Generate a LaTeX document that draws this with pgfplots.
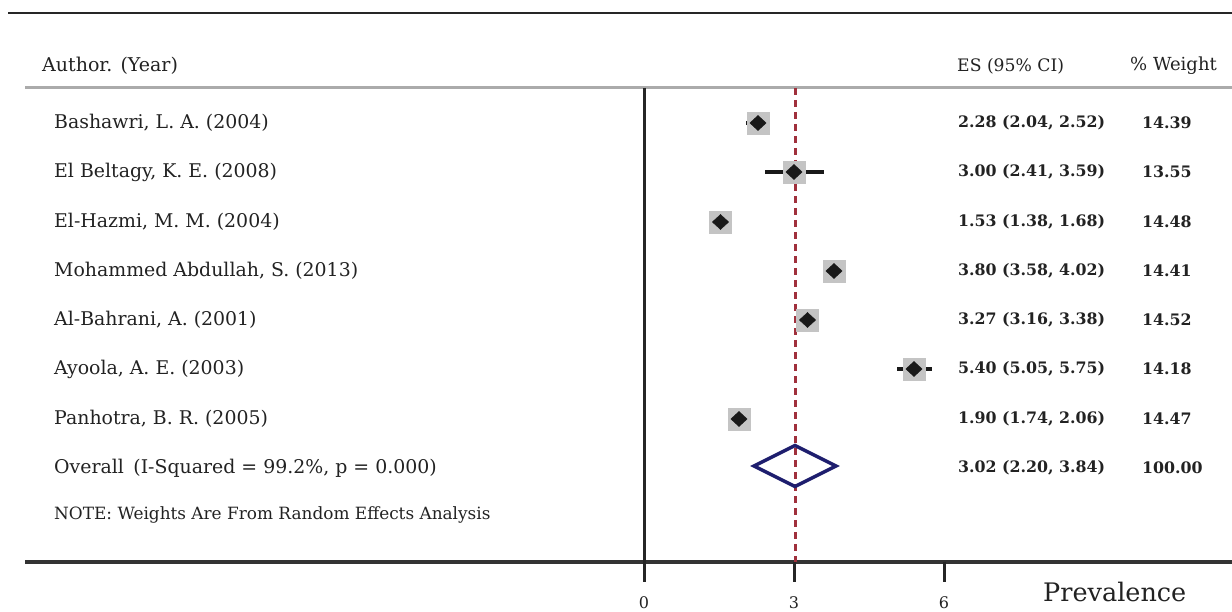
\documentclass[border=0pt]{standalone}
\usepackage{fontspec}
\setmainfont{DejaVu Serif}
\usepackage{pgfplots}
\usepackage{pgfplotstable}
\pgfplotsset{compat=1.18}
\definecolor{navy}{HTML}{1E1E6E}
\definecolor{refred}{HTML}{A0303C}
\definecolor{boxgray}{HTML}{C4C4C4}
\definecolor{txt}{HTML}{222222}
\pgfplotstableread{
es lo hi w ypos
2.28 2.04 2.52 14.39 -123
3.00 2.41 3.59 13.55 -172
1.53 1.38 1.68 14.48 -222
3.80 3.58 4.02 14.41 -271
3.27 3.16 3.38 14.52 -320
5.40 5.05 5.75 14.18 -369
1.90 1.74 2.06 14.47 -419
}\studies
\pgfplotstablecreatecol[create col/expr={\thisrow{es}-\thisrow{lo}}]{em}\studies
\pgfplotstablecreatecol[create col/expr={\thisrow{hi}-\thisrow{es}}]{ep}\studies
\tikzset{
  lab/.style={anchor=west, inner xsep=0pt, text=txt, font=\fontsize{18.9}{20}\selectfont},
  hdr/.style={anchor=west, inner xsep=0pt, text=txt, font=\fontsize{18}{20}\selectfont},
  val/.style={anchor=west, inner xsep=0pt, text=txt, font=\bfseries\fontsize{15.8}{18}\selectfont},
  tk/.style={text=txt, inner sep=0pt, font=\fontsize{16}{17}\selectfont},
}
\begin{document}
\begin{tikzpicture}
\begin{axis}[
  width=1232pt, height=612pt, scale only axis,
  xmin=-12.88, xmax=11.76, ymin=-612, ymax=0,
  axis lines=none, clip=false,
]
% frame lines
\addplot[black!85, line width=2pt] coordinates {(-12.72,-13) (11.76,-13)};
\addplot[black!33, line width=3pt] coordinates {(-12.38,-88) (11.76,-88)};
\addplot[black!80, line width=3.5pt] coordinates {(-12.38,-562) (11.76,-562)};
\addplot[black!85, line width=3pt] coordinates {(0,-88) (0,-582)};
\addplot[black!85, line width=3pt] coordinates {(3,-562) (3,-582)};
\addplot[black!85, line width=3pt] coordinates {(6,-562) (6,-582)};
% reference line
\addplot[refred, line width=3pt, dash pattern=on 7pt off 5pt] coordinates {(3.02,-88) (3.02,-562)};
% weight boxes
\addplot[only marks, mark=square*, mark size=11pt, mark options={fill=boxgray, draw=boxgray, rounded corners=2.5pt}] table[x=es, y=ypos] {\studies};
% CIs
\addplot[only marks, mark=none, error bars/.cd, x dir=both, x explicit, error mark=none, error bar style={line width=4pt, black!90}] table[x=es, y=ypos, x error minus=em, x error plus=ep] {\studies};
% point estimates
\addplot[only marks, mark=diamond*, mark size=7.5pt, mark options={fill=black!90, draw=black!90, xscale=1.45}] table[x=es, y=ypos] {\studies};
% overall
\addplot[navy, line width=3.5pt, line join=miter] coordinates {(2.20,-466) (3.02,-445.5) (3.84,-466) (3.02,-486.5) (2.20,-466)} -- cycle;
% texts
\node[lab, font=\fontsize{19}{20}\selectfont] at (axis cs:-12.04,-66) {Author. (Year)};
\node[hdr, font=\fontsize{17.2}{20}\selectfont] at (axis cs:6.26,-66) {ES (95\% CI)};
\node[hdr] at (axis cs:9.72,-66) {\% Weight};
\node[lab] at (axis cs:-11.80,-123) {Bashawri, L. A. (2004)};
\node[lab] at (axis cs:-11.80,-172) {El Beltagy, K. E. (2008)};
\node[lab] at (axis cs:-11.80,-222) {El-Hazmi, M. M. (2004)};
\node[lab] at (axis cs:-11.80,-271) {Mohammed Abdullah, S. (2013)};
\node[lab] at (axis cs:-11.80,-320) {Al-Bahrani, A. (2001)};
\node[lab] at (axis cs:-11.80,-369) {Ayoola, A. E. (2003)};
\node[lab] at (axis cs:-11.80,-419) {Panhotra, B. R. (2005)};
\node[lab] at (axis cs:-11.80,-468) {Overall\enspace(I-Squared = 99.2\%, p = 0.000)};
\node[lab, font=\fontsize{16.9}{18}\selectfont] at (axis cs:-11.80,-515) {NOTE: Weights Are From Random Effects Analysis};
\node[val] at (axis cs:6.28,-123) {2.28 (2.04, 2.52)};
\node[val] at (axis cs:6.28,-172) {3.00 (2.41, 3.59)};
\node[val] at (axis cs:6.28,-222) {1.53 (1.38, 1.68)};
\node[val] at (axis cs:6.28,-271) {3.80 (3.58, 4.02)};
\node[val] at (axis cs:6.28,-320) {3.27 (3.16, 3.38)};
\node[val] at (axis cs:6.28,-369) {5.40 (5.05, 5.75)};
\node[val] at (axis cs:6.28,-419) {1.90 (1.74, 2.06)};
\node[val] at (axis cs:6.28,-468) {3.02 (2.20, 3.84)};
\node[val] at (axis cs:9.96,-123) {14.39};
\node[val] at (axis cs:9.96,-172) {13.55};
\node[val] at (axis cs:9.96,-222) {14.48};
\node[val] at (axis cs:9.96,-271) {14.41};
\node[val] at (axis cs:9.96,-320) {14.52};
\node[val] at (axis cs:9.96,-369) {14.18};
\node[val] at (axis cs:9.96,-419) {14.47};
\node[val] at (axis cs:9.96,-468) {100.00};
\node[tk, anchor=base] at (axis cs:0,-609) {0};
\node[tk, anchor=base] at (axis cs:3,-609) {3};
\node[tk, anchor=base] at (axis cs:6,-609) {6};
\node[anchor=west, inner xsep=0pt, text=txt, font=\fontsize{25.5}{28}\selectfont] at (axis cs:7.98,-592) {Prevalence};
\end{axis}
\pgfresetboundingbox
\path (0,0) rectangle (1232pt,612pt);
\end{tikzpicture}
\end{document}
